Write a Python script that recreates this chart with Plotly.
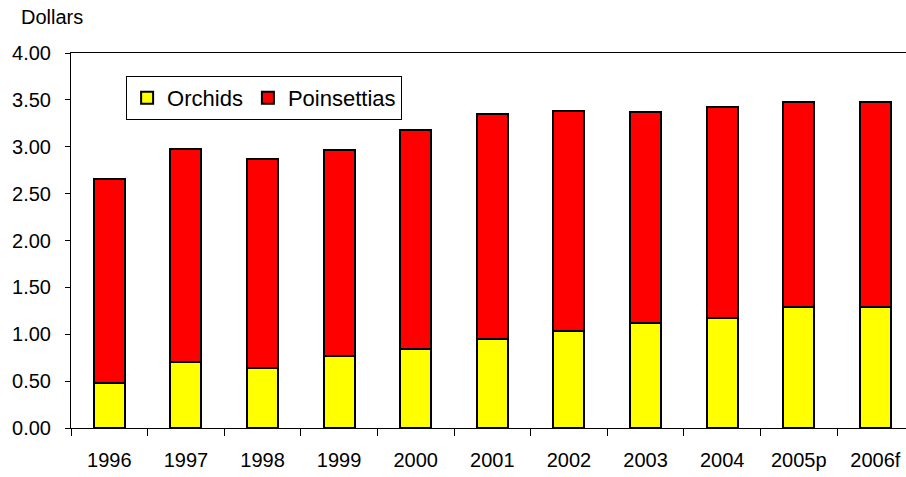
import plotly.graph_objects as go

years = ["1996", "1997", "1998", "1999", "2000", "2001", "2002", "2003", "2004", "2005p", "2006f"]
orchids = [0.48, 0.70, 0.64, 0.77, 0.84, 0.95, 1.03, 1.12, 1.17, 1.29, 1.29]
poinsettias = [2.18, 2.28, 2.23, 2.20, 2.34, 2.40, 2.35, 2.25, 2.25, 2.19, 2.19]
y_ticks = [0, 0.5, 1.0, 1.5, 2.0, 2.5, 3.0, 3.5, 4.0]

FONT = "Liberation Sans, Arial, sans-serif"

fig = go.Figure()
fig.add_trace(go.Bar(x=years, y=orchids, name="Orchids",
                     marker=dict(color="#FFFF00", line=dict(color="black", width=2))))
fig.add_trace(go.Bar(x=years, y=poinsettias, name="Poinsettias",
                     marker=dict(color="#FF0000", line=dict(color="black", width=2))))

fig.update_layout(
    width=906, height=477,
    margin=dict(l=71, r=0, t=53, b=49),
    barmode="stack", bargap=0.595,
    plot_bgcolor="white", paper_bgcolor="white",
    font=dict(family=FONT, size=20, color="black"),
    showlegend=True,
    legend=dict(orientation="h", x=0.066, y=0.939, xanchor="left", yanchor="top",
                bordercolor="black", borderwidth=1, bgcolor="white",
                font=dict(size=22), traceorder="normal", itemwidth=30),
    annotations=[dict(text="Dollars", xref="paper", yref="paper", x=-0.062, y=1.097,
                      xanchor="left", yanchor="middle", showarrow=False,
                      font=dict(size=20))],
)
fig.update_xaxes(type="category", range=[-0.5, 10.4], showline=True, linecolor="black",
                 linewidth=1, mirror=True, ticks="outside", ticklen=7, tickcolor="black",
                 tickson="boundaries", showgrid=False, tickfont=dict(size=20),
                 ticklabelstandoff=14)
fig.update_yaxes(range=[0, 4], tickvals=y_ticks, tickformat=".2f", showline=True,
                 linecolor="black", linewidth=1, ticks="outside", ticklen=5,
                 tickcolor="black", showgrid=False, zeroline=False, tickfont=dict(size=20),
                 ticklabelstandoff=10)

fig.write_html("out.html", config={"displayModeBar": False},
               post_script="document.body.style.margin='0px';")
